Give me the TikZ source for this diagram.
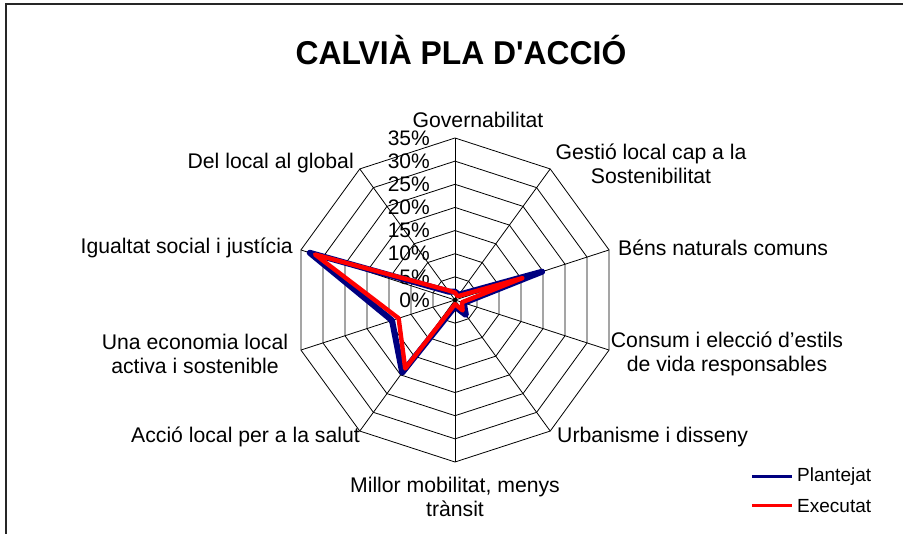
\documentclass[tikz,border=0pt]{standalone}
\usepackage{fontspec}
\setmainfont{Liberation Sans}
\usetikzlibrary{positioning}

\definecolor{navyline}{RGB}{0,0,128}

\begin{document}
\begin{tikzpicture}[x=1pt, y=1pt,
  grid line/.style={black, line width=0.8},
  axis label/.style={font=\fontsize{21.2}{24}\selectfont, align=center, inner sep=0},
  pct label/.style={font=\fontsize{21}{24}\selectfont, anchor=east, inner sep=0},
  key label/.style={font=\fontsize{19}{22}\selectfont, anchor=west, inner sep=0},
  planned/.style={navyline, line width=6, line join=round},
  done/.style={red, line width=4.4, line join=round},
]
  \def\R{162}
  \def\ring{23.143}
  \useasboundingbox (-455,-234) rectangle (448,300);
  \begin{scope}
    \clip (-455,-234) rectangle (448,300);
    \draw[line width=1.8, black!85] (-449,296) rectangle (470,-250);
  \end{scope}

  \node[font=\bfseries\fontsize{33}{36}\selectfont, xscale=0.965] (title) at (6,250)
    {CALVIÀ PLA D\textquotesingle ACCIÓ};

  % web
  \foreach \i in {0,...,9}
    \coordinate (v\i) at ({90-36*\i}:\R);
  \foreach \k in {1,...,7}
    \draw[grid line] (90:\k*\ring)
      \foreach \i in {1,...,9} { -- ({90-36*\i}:\k*\ring) } -- cycle;
  \foreach \i in {0,...,9}
    \draw[grid line] (0,0) -- (v\i);
  \foreach \k in {0,...,7}
    \node[pct label] (p\k) at (-25,\k*\ring) {\the\numexpr5*\k\relax\%};

  % series
  \foreach \v [count=\i from 0] in {1.8,1.4,19.8,2.0,4.0,1.4,19.4,14.3,33.0,2.2}
    \coordinate (b\i) at ({90-36*\i}:\v*\R/35);
  \foreach \v [count=\i from 0] in {1.6,1.0,15.3,1.6,2.8,0.9,18.3,12.8,31.8,2.6}
    \coordinate (r\i) at ({90-36*\i}:\v*\R/35);
  \draw[planned] (b0) -- (b1) -- (b2) -- (b3) -- (b4) -- (b5) -- (b6)
    -- (b7) -- (b8) -- (b9) -- cycle;
  \draw[done] (r0) -- (r1) -- (r2) -- (r3) -- (r4) -- (r5) -- (r6)
    -- (r7) -- (r8) -- (r9) -- cycle;
  \fill (0,0) circle (2.2);

  % category labels
  \node[axis label] (gov) at (23,180) {Governabilitat};
  \node[axis label] (gest) at (196,136) {Gestió local cap a la\\Sostenibilitat};
  \node[axis label, anchor=west] (bens) at (163,52) {Béns naturals comuns};
  \node[axis label] (cons) at (272,-54) {Consum i elecció d’estils\\de vida responsables};
  \node[axis label, anchor=west] (urb) at (102,-137) {Urbanisme i disseny};
  \node[axis label] (mob) at (0,-197) {Millor mobilitat, menys\\trànsit};
  \node[axis label, anchor=east] (salut) at (-95,-137) {Acció local per a la salut};
  \node[axis label] (econ) at (-260,-54) {Una economia local\\activa i sostenible};
  \node[axis label, anchor=east] (igual) at (-162,52) {Igualtat social i justícia};
  \node[axis label, anchor=east] (glob) at (-101,137) {Del local al global};

  % legend
  \coordinate (k1a) at (297,-177);
  \coordinate (k1b) at (337,-177);
  \coordinate (k2a) at (297,-206);
  \coordinate (k2b) at (337,-206);
  \draw[navyline, line width=3] (k1a) -- (k1b);
  \draw[red, line width=3] (k2a) -- (k2b);
  \node[key label, right=5pt of k1b] (plan) {Plantejat};
  \node[key label, right=5pt of k2b] (exec) {Executat};
\end{tikzpicture}
\end{document}
